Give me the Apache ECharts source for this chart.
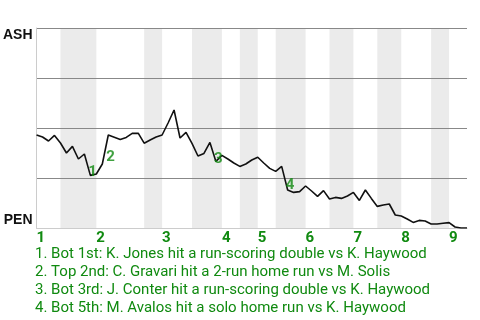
<!DOCTYPE html>
<html>
<head>
<meta charset="utf-8">
<script src="https://cdn.jsdelivr.net/npm/echarts@6/dist/echarts.min.js"></script>
<style>html,body{margin:0;padding:0;background:#fff}#c{width:480px;height:320px}</style>
</head>
<body>
<div id="c"></div>
<script>
// Win probability for ASH (100 = ASH, 0 = PEN), one point per plate appearance
const winProb = [46.5,45.5,43.5,46.3,42.5,37.5,40.8,34.5,37,26.3,27,32,46.5,45.4,44.3,45.3,47.3,47.4,42.4,44,45.5,46.5,52.5,59,45,47.8,42.3,36,37.3,42.8,33.3,36.3,34.5,32.5,30.8,32,34,35.4,32.5,29.8,28.3,30.8,19,17.8,18.2,21,18.5,15.8,18.7,14.5,15.3,14.8,16,17.8,13.8,19,14.8,10.8,11.5,12,6.5,6,4.5,2.8,3.8,3.5,2,2,2.4,2.7,0.5,0,0];
// Plate appearances per half inning (Top 1, Bot 1, Top 2, ...)
const paPerHalfInning = [4,6,8,3,5,5,3,3,3,5,4,4,4,4,5,3,3];
const inningLabels = ['1','2','3','4','5','6','7','8','9'];
const teamTop = 'ASH';
const teamBottom = 'PEN';
// Key events: index of plate appearance where the swing ends
const eventIndex = [9,12,30,42];
const eventText = [
  'Bot 1st: K. Jones hit a run-scoring double vs K. Haywood',
  'Top 2nd: C. Gravari hit a 2-run home run vs M. Solis',
  'Bot 3rd: J. Conter hit a run-scoring double vs K. Haywood',
  'Bot 5th: M. Avalos hit a solo home run vs K. Haywood'
];

const bounds = [0];
paPerHalfInning.forEach(n => bounds.push(bounds[bounds.length-1] + n));
const totalPA = bounds[bounds.length-1];
const inningStarts = [];
for (let i = 0; i < paPerHalfInning.length; i += 2) inningStarts.push(bounds[i]);
const bands = [];
for (let i = 1; i < paPerHalfInning.length; i += 2) bands.push([{xAxis: bounds[i]}, {xAxis: bounds[i+1]}]);

const GREEN = '#108a10';
const chart = echarts.init(document.getElementById('c'), null, {renderer:'canvas'});
chart.setOption({
  animation: false,
  title: {
    text: eventText.map((t,i) => (i+1) + '. ' + t).join('\n'),
    left: 35, top: 245, padding: 0,
    textStyle: {color: GREEN, fontSize: 15, fontWeight: 'normal', fontFamily: 'Roboto', lineHeight: 18}
  },
  grid: {left: 34, right: 13, top: 28, height: 200},
  xAxis: {
    type: 'value', min: 0, max: totalPA, offset: 2,
    axisLine: {show: true, lineStyle: {color: '#cccccc', width: 1}},
    axisTick: {show: false},
    splitLine: {show: false},
    axisLabel: {
      customValues: inningStarts,
      formatter: v => inningLabels[inningStarts.indexOf(v)] || '',
      color: GREEN, fontWeight: 'bold', fontSize: 15, fontFamily: 'Roboto',
      align: 'left', margin: 1
    }
  },
  yAxis: {
    type: 'value', min: 0, max: 100, interval: 25, z: 2,
    axisLine: {show: true, lineStyle: {color: '#cccccc', width: 1}},
    axisTick: {show: false},
    splitLine: {show: true, showMinLine: false, lineStyle: {color: '#888888', width: 1}},
    axisLabel: {
      margin: 4,
      formatter: v => v === 100 ? '{a|' + teamTop + '}' : (v === 0 ? '{b|' + teamBottom + '}' : ''),
      rich: {
        a: {fontWeight: 'bold', fontSize: 14, color: '#111', fontFamily: 'Liberation Sans', padding: [14,0,0,0]},
        b: {fontWeight: 'bold', fontSize: 14, color: '#111', fontFamily: 'Liberation Sans', padding: [0,0,15,0]}
      }
    }
  },
  series: [
    {
      type: 'line', data: [], z: 1, silent: true,
      markArea: {silent: true, itemStyle: {color: '#ebebeb'}, data: bands}
    },
    {
      type: 'line', data: winProb.map((v,i) => [i, v]), z: 3,
      showSymbol: false, symbol: 'none', silent: true,
      lineStyle: {color: '#111111', width: 1.6}
    },
    {
      type: 'scatter', symbolSize: 0, silent: true, z: 4,
      data: eventIndex.map((k,i) => ({value: [k - 0.5, (winProb[k-1] + winProb[k]) / 2], name: String(i+1)})),
      label: {
        show: true, formatter: p => p.name, position: [0,0], align: 'left', verticalAlign: 'top',
        offset: [1, 0], color: GREEN, fontWeight: 'bold', fontSize: 15, fontFamily: 'Roboto'
      }
    }
  ]
});
</script>
</body>
</html>
